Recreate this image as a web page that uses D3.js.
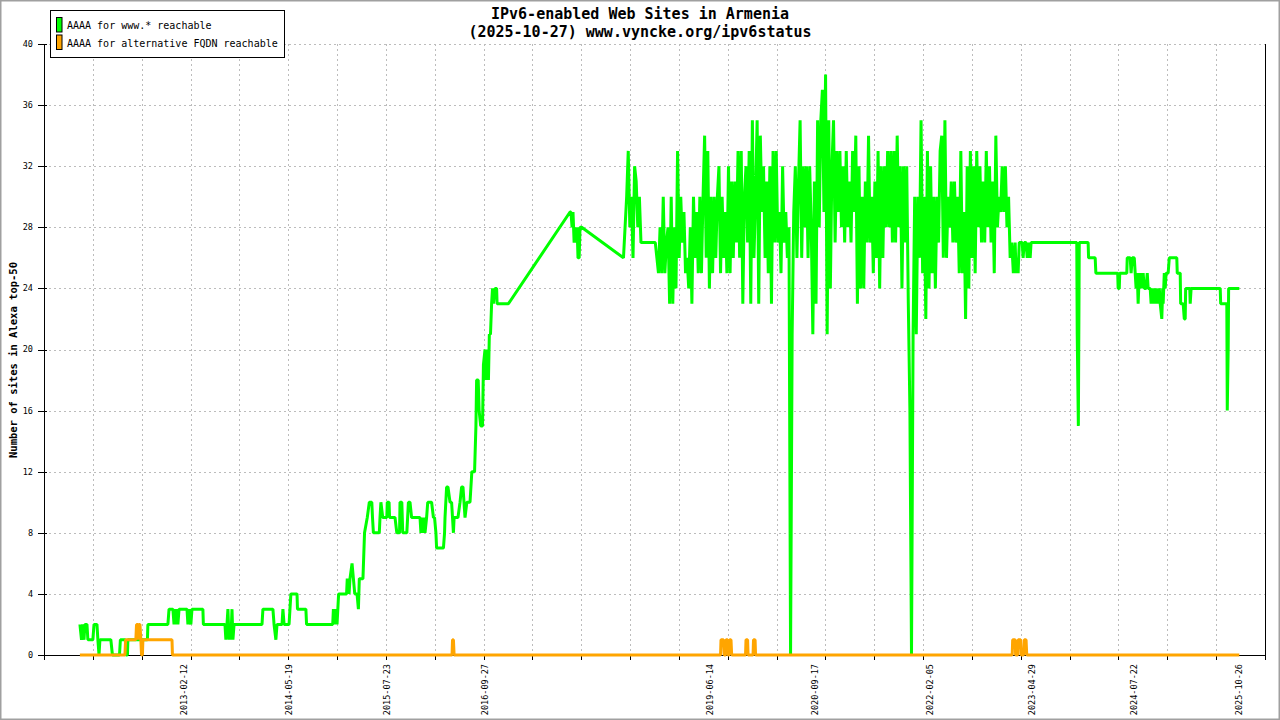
<!DOCTYPE html>
<html><head><meta charset="utf-8">
<script src="https://cdn.jsdelivr.net/npm/d3@7"></script>
<style>
body{margin:0;background:#fff}
svg{display:block}
text{font-family:"DejaVu Sans Mono","Liberation Mono",monospace;fill:#000}
</style>
</head><body>
<svg id="chart" width="1280" height="720"></svg>
<script>
// ---------------- data ----------------
const titleLines = ["IPv6-enabled Web Sites in Armenia", "(2025-10-27) www.vyncke.org/ipv6status"];
const yAxisTitle = "Number of sites in Alexa top-50";
const legendLabels = ["AAAA for www.* reachable", "AAAA for alternative FQDN reachable"];
const seriesColors = ["#00ff00", "#ffa500"];

// day offsets are counted from the first sample date
const seriesOrigin = "2011-11-11";

// AAAA for www.* reachable : [dayOffset, value] before the dense period
const wwwPointsA = [[0,2],[7,1],[11,2],[18,1],[22,2],[31,2],[35,1],[57,1],[62,2],[75,2],[79,1],[84,0],[88,1],[136,1],[143,0],[174,0],[178,1],[200,1],[202,0],[209,0],[211,1],[297,1],[299,2],[387,2],[392,3],[409,3],[414,2],[418,3],[422,2],[427,3],[431,2],[436,3],[471,3],[475,2],[480,3],[488,2],[493,3],[541,3],[543,2],[638,2],[642,1],[647,2],[651,3],[656,1],[660,2],[664,1],[669,3],[673,1],[678,2],[801,2],[805,3],[849,3],[854,2],[862,1],[867,2],[889,2],[893,3],[898,2],[920,2],[924,3],[928,4],[955,4],[957,3],[994,3],[997,2],[1112,2],[1115,3],[1120,2],[1126,3],[1131,2],[1138,4],[1173,4],[1176,5],[1184,4],[1188,5],[1197,6],[1203,5],[1209,4],[1219,4],[1225,3],[1229,5],[1245,5],[1252,8],[1264,9],[1273,10],[1284,10],[1287,9],[1291,8],[1317,8],[1320,9],[1324,10],[1332,9],[1350,9],[1352,10],[1360,10],[1362,9],[1386,9],[1394,8],[1406,8],[1408,10],[1416,10],[1420,8],[1438,8],[1445,10],[1452,10],[1459,9],[1496,9],[1500,8],[1505,9],[1509,8],[1514,9],[1518,8],[1525,9],[1530,10],[1547,10],[1555,9],[1560,9],[1566,8],[1569,7],[1599,7],[1604,8],[1606,9],[1613,11],[1619,11],[1628,10],[1635,10],[1643,8],[1646,9],[1663,9],[1672,10],[1679,11],[1685,11],[1694,9],[1702,10],[1716,10],[1724,12],[1736,12],[1742,15],[1745,18],[1752,18],[1756,16],[1763,15],[1771,15],[1775,19],[1782,20],[1786,18],[1791,20],[1797,18],[1801,21],[1806,21],[1811,23],[1815,24],[1819,23],[1826,24],[1833,24],[1835,23],[1885,23],[2156,29],[2160,29],[2165,28],[2169,29],[2174,27],[2178,28],[2182,27],[2187,28],[2191,26],[2196,26],[2200,28],[2207,28]];

// dense period: weekly samples
const wwwDenseStartDay = 2391;
const wwwDenseStepDays = 7;
const wwwDenseValues = [
26,28,30,33,28,30,26,32,31,28,
30,27,27,27,27,27,27,27,27,27,
27,26,25,28,25,30,25,27,28,23,
30,23,28,24,33,26,30,27,29,25,
26,24,28,23,30,26,29,25,30,25,
30,34,26,33,24,30,25,30,26,30,
32,25,30,26,29,25,32,25,31,26,
31,27,33,26,33,23,30,32,27,33,
23,35,26,30,35,23,34,29,32,26,
31,25,32,23,33,27,33,27,29,25,
32,27,29,26,28,0,21,29,32,26,
31,35,26,32,28,32,26,32,28,21,
31,23,35,28,35,37,29,38,21,35,
24,32,35,27,33,29,33,28,32,27,
33,28,31,27,33,29,34,23,32,24,
30,24,31,27,34,27,30,25,31,26,
33,24,32,26,32,28,33,28,33,27,
33,27,34,28,32,24,32,27,32,23,
16,0,21,30,21,30,26,35,25,30,
22,33,24,32,25,30,24,30,27,33,
34,26,35,26,30,28,31,27,31,27,
30,25,33,25,29,22,32,24,33,26,
32,25,33,28,32,27,31,27,33,28,
32,27,31,25,34,28,30,29,32,29,
32,28,30,26,27,25];

// after the dense period
const wwwPointsB = [[4114,27],[4118,25],[4123,26],[4127,25],[4132,27],[4145,27],[4149,26],[4154,27],[4162,27],[4167,26],[4176,27],[4180,26],[4184,27],[4385,27],[4387,21],[4392,15],[4396,27],[4435,27],[4437,26],[4466,26],[4469,25],[4565,25],[4567,24],[4572,24],[4574,25],[4605,25],[4607,26],[4620,26],[4624,25],[4629,26],[4638,26],[4642,25],[4646,24],[4651,25],[4655,23],[4660,25],[4664,24],[4668,25],[4673,24],[4677,25],[4682,24],[4690,24],[4695,25],[4699,24],[4708,24],[4712,23],[4717,24],[4721,23],[4726,24],[4730,23],[4734,24],[4739,23],[4748,24],[4752,23],[4759,22],[4763,24],[4765,23],[4770,25],[4774,24],[4778,25],[4787,25],[4792,26],[4825,26],[4827,25],[4840,25],[4842,23],[4853,23],[4858,22],[4862,22],[4864,24],[4882,24],[4884,23],[4888,24],[5016,24],[5018,23],[5045,23],[5047,16],[5051,20],[5053,24],[5100,24]];

// AAAA for alternative FQDN reachable : [dayOffset, value]
const fqdnPoints = [[0,0],[198,0],[201,1],[246,1],[249,2],[255,2],[257,1],[260,2],[264,2],[268,1],[271,0],[275,0],[277,1],[405,1],[407,0],[1637,0],[1639,1],[1643,1],[1646,0],[2818,0],[2820,1],[2831,1],[2834,0],[2840,0],[2842,1],[2849,1],[2851,0],[2856,0],[2858,1],[2864,1],[2867,0],[2928,0],[2930,1],[2937,1],[2939,0],[2961,0],[2963,1],[2970,1],[2972,0],[4101,0],[4103,1],[4114,1],[4116,0],[4125,0],[4127,1],[4138,1],[4140,0],[4151,0],[4154,1],[4162,1],[4165,0],[5100,0]];

const xLabelDates = ["2013-02-12","2014-05-19","2015-07-23","2016-09-27","2019-06-14","2020-09-17","2022-02-05","2023-04-29","2024-07-22","2025-10-26"];
const xDomainDates = ["2011-06-06","2026-02-18"];
const xTickIntervals = 25;
const yTickValues = [0,4,8,12,16,20,24,28,32,36,40];
const yDomain = [0,40];

// ---------------- chart ----------------
const parse = d3.timeParse("%Y-%m-%d");
const origin = parse(seriesOrigin);
const toDate = d => d3.timeDay.offset(origin, d);

const wwwSeries = [
  ...wwwPointsA.map(([d,v]) => ({date: toDate(d), value: v})),
  ...wwwDenseValues.map((v,i) => ({date: toDate(wwwDenseStartDay + i*wwwDenseStepDays), value: v})),
  ...wwwPointsB.map(([d,v]) => ({date: toDate(d), value: v}))
];
const fqdnSeries = fqdnPoints.map(([d,v]) => ({date: toDate(d), value: v}));

const L = 44, R = 1265, T = 44, B = 655;
const svg = d3.select("#chart");
svg.append("rect").attr("width",1280).attr("height",720).attr("fill","#fff");

const xDom = xDomainDates.map(parse);
const x = d3.scaleTime().domain(xDom).range([L, R]);
const y = d3.scaleLinear().domain(yDomain).range([B, T]);

const xTicks = d3.range(xTickIntervals + 1).map(i => new Date(+xDom[0] + i*(xDom[1]-xDom[0])/xTickIntervals));

const grid = svg.append("g").attr("stroke","#bcbcbc").attr("stroke-width",1)
  .attr("stroke-dasharray","2,3").attr("shape-rendering","crispEdges");
grid.selectAll(".hg").data(yTickValues.filter(v => v > 0)).join("line")
  .attr("x1", L).attr("x2", R).attr("y1", d => y(d) + 0.5).attr("y2", d => y(d) + 0.5);
grid.selectAll(".vg").data(xTicks.slice(1, -1)).join("line")
  .attr("y1", T).attr("y2", B).attr("x1", d => Math.round(x(d)) + 0.5).attr("x2", d => Math.round(x(d)) + 0.5);

const ax = svg.append("g").attr("stroke","#000").attr("stroke-width",1).attr("shape-rendering","crispEdges");
ax.append("line").attr("x1", L+0.5).attr("x2", L+0.5).attr("y1", T).attr("y2", B+5);
ax.append("line").attr("x1", R+0.5).attr("x2", R+0.5).attr("y1", T).attr("y2", B);
ax.append("line").attr("x1", L).attr("x2", R+1).attr("y1", B+0.5).attr("y2", B+0.5);
ax.selectAll(".xt").data(xTicks).join("line")
  .attr("x1", d => Math.round(x(d)) + 0.5).attr("x2", d => Math.round(x(d)) + 0.5)
  .attr("y1", B).attr("y2", B + 5);
ax.selectAll(".yt").data(yTickValues).join("line")
  .attr("x1", L - 6).attr("x2", L + 3)
  .attr("y1", d => Math.round(y(d)) + 0.5).attr("y2", d => Math.round(y(d)) + 0.5);

svg.append("g").selectAll("text").data(yTickValues).join("text")
  .attr("x", L - 11).attr("y", d => y(d)).attr("dy","0.35em")
  .attr("text-anchor","end").attr("font-size", 8.5).text(d => d);

svg.append("g").selectAll("text").data(xLabelDates).join("text")
  .attr("transform", d => `translate(${x(parse(d))},${B + 9}) rotate(-90)`)
  .attr("dy","0.35em").attr("text-anchor","end").attr("font-size", 8.5).text(d => d);

const line = d3.line().x(d => x(d.date)).y(d => y(d.value));
svg.append("path").datum(wwwSeries).attr("d", line)
  .attr("fill","none").attr("stroke", seriesColors[0]).attr("stroke-width",3).attr("stroke-linejoin","bevel");
svg.append("path").datum(fqdnSeries).attr("d", line)
  .attr("fill","none").attr("stroke", seriesColors[1]).attr("stroke-width",3).attr("stroke-linejoin","bevel");

// titles
svg.append("g").selectAll("text").data(titleLines).join("text")
  .attr("x", 640).attr("y", (d,i) => 18.5 + i*18.5)
  .attr("text-anchor","middle").attr("font-size",15).attr("font-weight","bold").text(d => d);

svg.append("text").attr("transform","translate(17,360) rotate(-90)")
  .attr("text-anchor","middle").attr("font-size",10.5).attr("font-weight","bold").text(yAxisTitle);

// legend
const lg = svg.append("g");
lg.append("rect").attr("x",50.5).attr("y",10.5).attr("width",234).attr("height",47)
  .attr("fill","#fff").attr("stroke","#000").attr("stroke-width",1);
const items = lg.selectAll("g.item").data(legendLabels).join("g").attr("class","item")
  .attr("transform",(d,i) => `translate(0,${i*17.5})`);
items.append("rect").attr("x",56.5).attr("y",17.5).attr("width",5.5).attr("height",14.5)
  .attr("fill",(d,i) => seriesColors[i]).attr("stroke","#000").attr("stroke-width",1);
items.append("text").attr("x",67).attr("y",25.5).attr("dy","0.35em").attr("font-size",10).text(d => d);

// outer frame
svg.append("rect").attr("x",0.5).attr("y",0.5).attr("width",1279).attr("height",719)
  .attr("fill","none").attr("stroke","#a0a0a0").attr("stroke-width",2);
</script>
</body></html>
